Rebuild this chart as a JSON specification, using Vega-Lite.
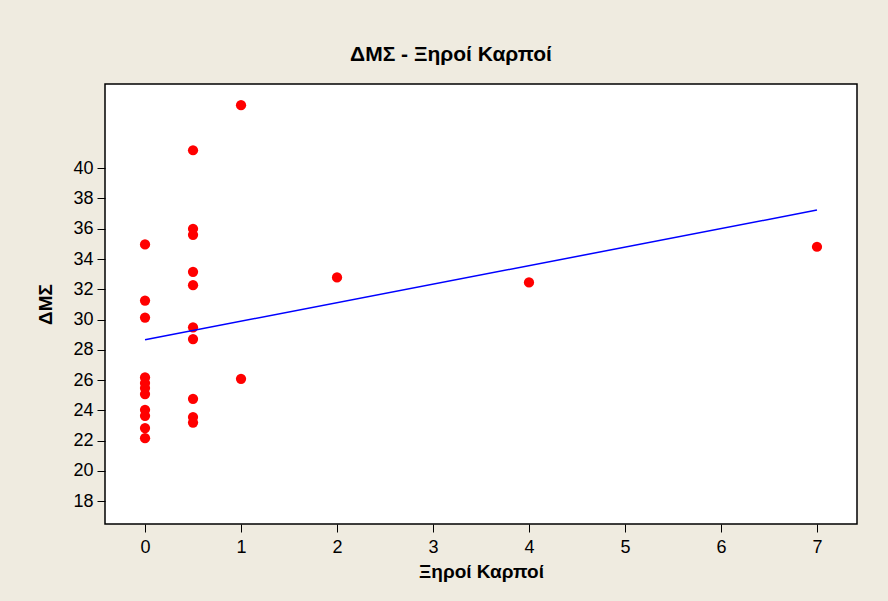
{
  "$schema": "https://vega.github.io/schema/vega-lite/v6.json",
  "width": 752,
  "height": 440,
  "autosize": {"type": "none"},
  "padding": {"left": 105, "top": 84, "right": 31, "bottom": 77},
  "background": "#EFEBE0",
  "title": {
    "text": "ΔΜΣ - Ξηροί Καρποί",
    "font": "Liberation Sans",
    "fontSize": 21,
    "fontWeight": "bold",
    "color": "#000000",
    "anchor": "middle",
    "dx": -30,
    "offset": 19
  },
  "config": {
    "view": {"stroke": "#000000", "strokeWidth": 1.5, "fill": "#FFFFFF"},
    "axis": {
      "labelFont": "Liberation Sans",
      "labelFontSize": 18,
      "labelColor": "#000000",
      "labelOverlap": false,
      "labelBound": false,
      "labelFlush": false,
      "titleFont": "Liberation Sans",
      "titleFontSize": 19,
      "titleFontWeight": "bold",
      "titleColor": "#000000",
      "tickColor": "#000000",
      "tickSize": 8,
      "grid": false,
      "domain": false
    }
  },
  "data": {
    "values": [
      {"x": 0, "y": 34.96},
      {"x": 0, "y": 31.25},
      {"x": 0, "y": 30.13},
      {"x": 0, "y": 26.17},
      {"x": 0, "y": 25.8},
      {"x": 0, "y": 25.47},
      {"x": 0, "y": 25.07},
      {"x": 0, "y": 24.03},
      {"x": 0, "y": 23.63},
      {"x": 0, "y": 22.82},
      {"x": 0, "y": 22.15},
      {"x": 0.5, "y": 41.19},
      {"x": 0.5, "y": 36.0},
      {"x": 0.5, "y": 35.6},
      {"x": 0.5, "y": 33.15},
      {"x": 0.5, "y": 32.27},
      {"x": 0.5, "y": 29.48},
      {"x": 0.5, "y": 28.71},
      {"x": 0.5, "y": 24.76},
      {"x": 0.5, "y": 23.55},
      {"x": 0.5, "y": 23.19},
      {"x": 1, "y": 44.17},
      {"x": 1, "y": 26.08},
      {"x": 2, "y": 32.78},
      {"x": 4, "y": 32.45},
      {"x": 7, "y": 34.81}
    ]
  },
  "encoding": {
    "x": {
      "field": "x",
      "type": "quantitative",
      "title": "Ξηροί Καρποί",
      "scale": {"domain": [-0.417, 7.417], "nice": false, "zero": false},
      "axis": {"values": [0, 1, 2, 3, 4, 5, 6, 7], "format": "d", "labelOverlap": false, "labelPadding": 6, "titlePadding": 6}
    },
    "y": {
      "field": "y",
      "type": "quantitative",
      "title": "ΔΜΣ",
      "scale": {"domain": [16.48, 45.57], "nice": false, "zero": false},
      "axis": {"values": [18, 20, 22, 24, 26, 28, 30, 32, 34, 36, 38, 40], "format": "d", "labelOverlap": false, "tickCount": 12, "labelPadding": 4, "titlePadding": 17}
    }
  },
  "layer": [
    {
      "mark": {"type": "circle", "size": 105, "color": "#FF0000", "opacity": 1}
    },
    {
      "transform": [{"regression": "y", "on": "x"}],
      "mark": {"type": "line", "color": "#0000FF", "strokeWidth": 1.5}
    }
  ]
}
